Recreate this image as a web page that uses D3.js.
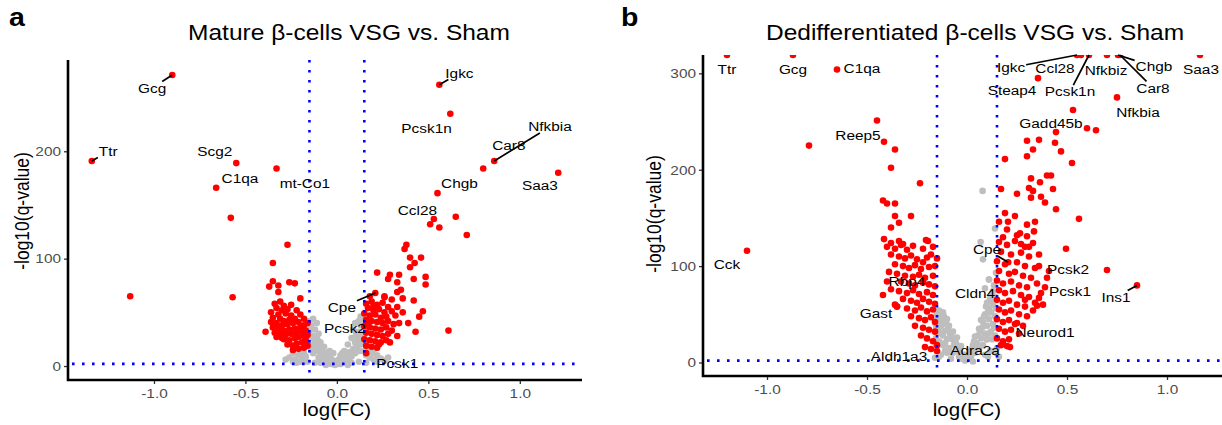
<!DOCTYPE html>
<html lang="en">
<head>
<meta charset="UTF-8">
<title>Volcano plots VSG vs. Sham</title>
<script src="https://d3js.org/d3.v7.min.js"></script>
<style>
  body { margin: 0; background: #fff; }
  svg text { font-family: "Liberation Sans", Arial, sans-serif; }
  .tick text { fill: #4d4d4d; font-size: 13.5px; }
  .tick line { stroke: #333; stroke-width: 1.3; }
  .gene-label { font-size: 13.5px; fill: #000; }
</style>
</head>
<body>
<svg id="chart" width="1222" height="425"></svg>
<script>
// ---- panel a: mature beta-cells ----
const matureGrey = [
  [-0.26,8],[-0.24,12],[-0.23,6],[-0.21,10],[-0.20,15],[-0.19,7],[-0.18,12],[-0.17,18],[-0.16,24],[-0.15,30],
  [-0.14,38],[-0.13,44],[-0.15,20],[-0.14,15],[-0.13,28],[-0.12,34],[-0.12,22],[-0.11,26],[-0.11,14],[-0.10,18],
  [-0.10,8],[-0.09,12],[-0.08,16],[-0.08,5],[-0.07,9],[-0.06,12],[-0.05,4],[-0.04,8],[-0.03,2],[-0.02,5],
  [-0.01,1],[0.00,3],[0.01,6],[0.02,2],[0.03,7],[0.04,4],[0.05,10],[0.06,6],[0.07,13],[0.08,9],
  [0.09,16],[0.10,12],[0.10,22],[0.11,28],[0.11,18],[0.12,32],[0.12,24],[0.13,38],[0.13,20],[0.14,44],
  [0.14,30],[0.15,36],[0.15,14],[0.16,10],[0.17,16],[0.18,8],[0.19,12],[0.20,6],[0.22,10],[0.24,7],
  [-0.22,3],[-0.16,4],[-0.12,3],[0.12,4],[0.16,3],[-0.06,1],[0.06,1],[-0.17,9],[0.08,3],[-0.09,3],
  [0.20,15],[-0.20,4],[0.26,5],[-0.15,42],[-0.14,26],[-0.13,12],[-0.11,40],[-0.10,30],[-0.09,22],[-0.07,18],
  [-0.05,10],[-0.02,12],[0.02,10],[0.04,14],[0.06,20],[0.08,26],[0.09,34],[0.10,40],[0.12,42],[0.13,46],
  [0.14,22],[0.15,26],[-0.18,4],[-0.24,4],[0.22,4],[-0.28,6],[0.28,8],[-0.03,6],[0.01,2],[-0.145,34],
  [-0.125,18],[-0.105,24],[0.105,30],[0.125,14],[0.135,28],[-0.04,14],[0.03,12],[0.07,4],[-0.07,4]
];
const matureRed = [
  [-1.13,65],[-0.58,138],[-0.57,64],[-0.39,32],[-0.27,113],[-0.35,96],[-0.35,79],[-0.37,74],[-0.32,75],[-0.26,78],
  [-0.23,77],[-0.32,69],[-0.20,63],
  [-0.34,58],[-0.31,60],[-0.29,56],[-0.33,54],[-0.30,52],[-0.27,53],[-0.36,50],[-0.32,48],[-0.28,49],[-0.25,47],
  [-0.35,45],[-0.31,44],[-0.29,42],[-0.26,43],[-0.23,44],[-0.33,40],[-0.30,38],[-0.27,39],[-0.24,40],[-0.21,41],
  [-0.35,36],[-0.32,35],[-0.29,33],[-0.26,34],[-0.23,35],[-0.20,36],[-0.18,38],[-0.31,30],[-0.28,29],[-0.25,30],
  [-0.22,31],[-0.19,32],[-0.17,33],[-0.29,25],[-0.26,24],[-0.23,26],[-0.21,27],[-0.18,28],[-0.16,29],[-0.27,20],
  [-0.24,19],[-0.22,21],[-0.19,22],[-0.17,24],[-0.16,19],[-0.21,16],[-0.18,17],[-0.24,15],[-0.36,41],[-0.34,31],
  [-0.20,48],[-0.22,52],[-0.25,57],[-0.18,44],[-0.16,40],[-0.30,26],[-0.33,27],
  [0.51,132],[0.56,129],[0.65,139],[0.71,122],
  [0.38,113],[0.37,109],[0.40,101],[0.46,101],[0.425,96],[0.40,92],[0.22,87],[0.29,85],[0.34,85],[0.28,81],
  [0.33,78],[0.42,81],[0.485,83],[0.485,76],[0.26,65],[0.33,69],[0.35,71],[0.36,63],[0.42,61],[0.47,51],
  [0.45,46],[0.39,40],[0.43,32],[0.61,33],
  [0.16,58],[0.19,60],[0.22,57],[0.25,59],[0.28,55],[0.17,54],[0.20,52],[0.23,53],[0.26,50],[0.30,51],
  [0.15,49],[0.18,47],[0.21,48],[0.24,45],[0.27,46],[0.32,47],[0.16,43],[0.19,42],[0.22,41],[0.25,40],
  [0.28,42],[0.31,39],[0.15,37],[0.18,36],[0.21,35],[0.24,34],[0.27,36],[0.30,33],[0.16,31],[0.19,30],
  [0.22,29],[0.25,28],[0.28,30],[0.15,25],[0.18,24],[0.21,23],[0.24,22],[0.27,24],[0.16,19],[0.19,18],
  [0.22,17],[0.33,55],[0.30,62],[0.26,64],[0.18,65],[0.34,40],[0.36,50],[0.33,28],[0.20,56],[0.17,39],
  [0.23,20],[0.29,22]
];
// gene, logFC, -log10(q), label position (data units), leader line
const matureGenes = [
  ["Gcg", -0.90, 271, -1.01, 259, true],
  ["Ttr", -1.34, 191, -1.25, 200, true],
  ["Scg2", -0.55, 189, -0.667, 200, false],
  ["C1qa", -0.66, 166, -0.53, 175, false],
  ["mt-Co1", -0.33, 184, -0.175, 170, false],
  ["Igkc", 0.56, 262, 0.67, 273, true],
  ["Pcsk1n", 0.62, 235, 0.49, 221, false],
  ["Nfkbia", 0.86, 191, 1.165, 223, true],
  ["Car8", 0.80, 184, 0.94, 206, false],
  ["Saa3", 1.21, 180, 1.11, 168, false],
  ["Chgb", 0.55, 161, 0.67, 170, false],
  ["Ccl28", 0.53, 137, 0.44, 145, false],
  ["Cpe", 0.21, 68, 0.027, 55, true],
  ["Pcsk2", 0.16, 40, 0.044, 35, false],
  ["Pcsk1", 0.16, 12, 0.33, 3, false]
];

// ---- panel b: dedifferentiated beta-cells ----
const dedifGrey = [
  [-0.15,50],[-0.14,54],[-0.13,47],[-0.12,52],[-0.14,42],[-0.12,40],[-0.10,45],[-0.15,35],[-0.13,30],[-0.11,33],
  [-0.09,38],[-0.14,22],[-0.12,18],[-0.10,24],[-0.08,28],[-0.06,22],[-0.15,12],[-0.13,8],[-0.11,12],[-0.09,15],
  [-0.07,10],[-0.05,14],[-0.04,6],[-0.02,8],[0.00,3],[0.02,6],[-0.08,4],[0.04,10],[0.06,14],[0.05,20],
  [0.07,25],[0.08,18],[0.09,30],[0.10,24],[0.10,38],[0.11,45],[0.12,32],[0.12,52],[0.13,40],[0.13,60],
  [0.14,48],[0.14,68],[0.12,64],[0.11,56],[0.09,50],[0.08,42],[0.06,35],[0.14,28],[0.15,15],[0.03,1],
  [-0.01,2],[0.09,8],[0.12,12],[-0.16,5],[0.16,6],[0.09,77],[0.11,86],[0.145,93],[0.08,107],[0.068,125],
  [0.14,139],[0.078,178],[-0.03,17],[0.02,12],[0.04,27],[-0.13,38],[-0.11,20],[-0.07,32],[-0.05,26],[0.07,44],
  [0.10,62],[0.13,74],[0.11,30],[-0.01,8],[0.03,18],
  [-0.145,46],[-0.135,51],[-0.125,44],[-0.115,48],[-0.105,41],[-0.095,35],[-0.085,30],[-0.075,24],[-0.065,18],[-0.055,20],
  [-0.045,12],[-0.035,10],[-0.025,4],[-0.015,6],[0.005,5],[0.015,9],[0.025,14],[0.035,22],[0.045,16],[0.055,28],
  [0.065,32],[0.075,36],[0.085,48],[0.095,58],[0.105,52],[0.115,66],[0.125,72],[0.135,80],[0.145,56],[0.135,36],
  [0.125,24],[0.115,12],[0.105,6],[-0.13,20],[-0.14,32],[-0.12,28],[-0.10,10],[-0.14,6],[0.145,10],[-0.155,25],
  [-0.155,38]
];
const dedifRed = [
  [-0.79,225],[-0.415,229],[-0.36,221],[-0.38,202],[-0.235,186],[-0.42,168],[-0.40,165],[-0.36,165],[-0.36,152],[-0.28,152],
  [-0.34,145],[-0.38,140],[-0.415,128],[-0.38,124],[-0.34,126],[-0.32,123],[-0.205,127],[-0.195,126],
  [-0.40,120],[-0.36,118],[-0.33,122],[-0.30,117],[-0.27,121],[-0.22,118],[-0.17,120],[-0.38,112],[-0.34,110],[-0.31,108],
  [-0.28,111],[-0.25,107],[-0.20,109],[-0.36,102],[-0.32,100],[-0.29,98],[-0.26,101],[-0.23,97],[-0.19,99],[-0.16,100],
  [-0.39,94],[-0.35,92],[-0.31,90],[-0.27,89],[-0.24,91],[-0.21,88],[-0.17,90],[-0.33,84],[-0.29,82],[-0.26,80],
  [-0.22,83],[-0.19,81],[-0.16,79],[-0.38,76],[-0.34,74],[-0.30,72],[-0.27,75],[-0.24,71],[-0.20,73],[-0.17,70],
  [-0.32,66],[-0.28,64],[-0.25,62],[-0.22,66],[-0.19,63],[-0.16,61],[-0.35,58],[-0.30,56],[-0.26,54],[-0.23,57],
  [-0.20,53],[-0.17,55],[-0.28,48],[-0.24,46],[-0.21,44],[-0.18,47],[-0.16,42],[-0.26,38],[-0.22,36],[-0.19,34],
  [-0.16,32],[-0.23,28],[-0.20,25],[-0.17,22],[-0.15,18],[-0.21,16],[-0.18,14],[-0.36,60],[-0.40,84],[-0.42,70],
  [-0.22,104],[-0.18,112],[-0.15,108],
  [0.19,211],[0.17,180],[0.25,175],[0.32,191],[0.31,181],[0.33,178],[0.32,171],[0.365,187],[0.30,230],[0.33,221],
  [0.30,214],[0.36,231],[0.19,155],[0.16,146],[0.205,146],[0.24,152],[0.30,143],[0.34,146],[0.265,134],[0.30,131],
  [0.27,123],[0.31,120],[0.335,136],
  [0.60,243],[0.645,241],[0.445,239],[0.44,228],[0.47,219],[0.525,207],[0.40,194],[0.42,194],[0.43,180],[0.37,172],
  [0.39,166],[0.445,159],[0.56,149],[0.495,118],[0.70,96],
  [0.16,125],[0.20,122],[0.24,126],[0.29,120],[0.33,124],[0.17,115],[0.22,112],[0.27,114],[0.31,110],[0.36,112],
  [0.15,105],[0.19,102],[0.25,104],[0.29,100],[0.34,98],[0.16,95],[0.21,92],[0.24,94],[0.28,90],[0.32,88],
  [0.15,85],[0.18,82],[0.22,84],[0.26,80],[0.30,78],[0.35,82],[0.16,75],[0.19,72],[0.23,74],[0.27,70],
  [0.31,68],[0.15,65],[0.18,62],[0.21,64],[0.25,60],[0.29,58],[0.34,62],[0.16,55],[0.19,52],[0.22,54],
  [0.26,50],[0.30,48],[0.15,45],[0.18,42],[0.21,44],[0.24,40],[0.28,38],[0.16,35],[0.19,32],[0.22,34],
  [0.26,30],[0.15,25],[0.18,22],[0.21,24],[0.20,17],[0.17,18],[0.33,54],[0.37,72],[0.38,60],[0.40,88],
  [0.36,100],[0.25,132],[0.20,138],[0.18,130],[0.35,59],[0.36,67],[0.29,65],[0.25,41]
];
// Infinity = q-value of 0, drawn at the top edge
const dedifGenes = [
  ["Ttr", -1.20, Infinity, -1.20, 304, false],
  ["Gcg", -0.87, Infinity, -0.87, 304, false],
  ["C1qa", -0.65, 304, -0.525, 305, false],
  ["Cck", -1.10, 116, -1.20, 102, false],
  ["Reep5", -0.45, 251, -0.545, 236, false],
  ["Igkc", 0.55, Infinity, 0.22, 306, true],
  ["Ccl28", 0.57, Infinity, 0.44, 305, false],
  ["Steap4", 0.355, 295, 0.225, 282, false],
  ["Pcsk1n", 0.61, Infinity, 0.515, 281, true],
  ["Nfkbiz", 0.70, Infinity, 0.695, 303, false],
  ["Chgb", 0.755, Infinity, 0.935, 307, true],
  ["Car8", 0.765, Infinity, 0.93, 285, true],
  ["Saa3", 1.165, Infinity, 1.17, 304, false],
  ["Nfkbia", 0.75, 275, 0.855, 260, false],
  ["Gadd45b", 0.53, 262, 0.42, 248, false],
  ["Cpe", 0.206, 104, 0.10, 117, true],
  ["Pcsk2", 0.41, 95, 0.505, 97, false],
  ["Pcsk1", 0.39, 78, 0.515, 74, false],
  ["Ins1", 0.85, 80, 0.745, 68, true],
  ["Rbp4", -0.22, 83, -0.30, 84, false],
  ["Cldn4", 0.11, 86, 0.04, 72, false],
  ["Gast", -0.35, 58, -0.455, 51, false],
  ["Neurod1", 0.215, 16, 0.39, 31, false],
  ["Adra2a", 0.10, 24, 0.04, 13, false],
  ["Aldh1a3", -0.15, 12, -0.34, 6, false]
];

const xTicks = [-1.0, -0.5, 0.0, 0.5, 1.0];
const fcCut = 0.15;
const qCut = 2;
const textWiden = 1.14;   // the source figure is a little stretched sideways

const svg = d3.select("#chart");

// move x/y into a transform so the glyphs can be widened
function widen(sel) {
  sel.each(function () {
    const t = d3.select(this);
    const tx = +t.attr("x") || 0, ty = +t.attr("y") || 0;
    t.attr("x", 0).attr("y", 0)
      .attr("transform", `translate(${tx},${ty}) scale(${textWiden},1)`);
  });
}

function drawPanel(p) {
  const x = d3.scaleLinear().domain(p.xDomain).range(p.xRange);
  const y = d3.scaleLinear().domain(p.yDomain).range(p.yRange);
  const yv = v => y(v === Infinity ? p.yDomain[1] : v);
  const g = svg.append("g");

  g.append("text").attr("x", p.letterX).attr("y", 26)
    .style("font-size", "25px").style("font-weight", "bold").text(p.letter).call(widen);
  g.append("text").attr("x", p.titleX).attr("y", 40).attr("text-anchor", "middle")
    .style("font-size", "21.5px").text(p.title).call(widen);

  g.append("clipPath").attr("id", "clip-" + p.id).append("rect")
    .attr("x", p.xRange[0]).attr("y", p.yRange[1])
    .attr("width", p.xRange[1] - p.xRange[0]).attr("height", p.yRange[0] - p.yRange[1]);
  const plot = g.append("g").attr("clip-path", `url(#clip-${p.id})`);

  plot.selectAll("circle.grey").data(p.grey).join("circle").attr("class", "grey")
    .attr("cx", d => x(d[0])).attr("cy", d => yv(d[1])).attr("r", 3.3).attr("fill", "#bebebe");
  plot.selectAll("circle.red").data(p.red).join("circle").attr("class", "red")
    .attr("cx", d => x(d[0])).attr("cy", d => yv(d[1])).attr("r", 3.3).attr("fill", "#ff0000");
  plot.selectAll("circle.gene-dot").data(p.genes).join("circle").attr("class", "gene-dot")
    .attr("cx", d => x(d[1])).attr("cy", d => yv(d[2])).attr("r", 3.3)
    .attr("fill", d => Math.abs(d[1]) >= fcCut ? "#ff0000" : "#bebebe");

  // threshold lines
  const dotted = { stroke: "#0000ff", "stroke-width": 2.6, "stroke-dasharray": "2.6,7.4" };
  [-fcCut, fcCut].forEach(v => {
    const l = g.append("line").attr("x1", x(v)).attr("x2", x(v))
      .attr("y1", p.yRange[1]).attr("y2", p.yRange[0]);
    Object.entries(dotted).forEach(([k, val]) => l.attr(k, val));
  });
  const h = g.append("line").attr("x1", p.xRange[0] + 4).attr("x2", p.xRange[1])
    .attr("y1", y(qCut)).attr("y2", y(qCut));
  Object.entries(dotted).forEach(([k, val]) => h.attr(k, val));

  // axes
  const xAxis = g.append("g").attr("transform", `translate(0,${p.yRange[0]})`)
    .call(d3.axisBottom(x).tickValues(xTicks).tickSize(4).tickPadding(4).tickFormat(d => d.toFixed(1)));
  const yAxis = g.append("g").attr("transform", `translate(${p.xRange[0]},0)`)
    .call(d3.axisLeft(y).tickValues(p.yTicks).tickSize(4).tickPadding(3).tickFormat(d3.format("d")));
  xAxis.select(".domain").remove();
  yAxis.select(".domain").remove();
  xAxis.selectAll(".tick text").call(widen);
  yAxis.selectAll(".tick text").call(widen);
  g.append("path")
    .attr("d", `M${p.xRange[0]},${p.yRange[1]}V${p.yRange[0]}H${p.xRange[1]}`)
    .attr("fill", "none").attr("stroke", "#000").attr("stroke-width", 2.6);

  g.append("text").attr("x", (p.xRange[0] + p.xRange[1]) / 2 + p.xTitleShift).attr("y", 416)
    .attr("text-anchor", "middle").style("font-size", "18px").text("log(FC)").call(widen);
  g.append("text")
    .attr("transform", `translate(${p.yTitleX},${p.yTitleY}) rotate(-90) scale(1,${textWiden})`)
    .attr("text-anchor", "middle").style("font-size", "17.5px").text("-log10(q-value)");

  // gene labels with leader lines
  const labels = g.selectAll("text.gene-label").data(p.genes).join("text").attr("class", "gene-label")
    .attr("x", d => x(d[3])).attr("y", d => y(d[4])).attr("dy", "0.35em")
    .attr("text-anchor", "middle").text(d => d[0]).call(widen);
  labels.each(function (d) {
    if (!d[5]) return;
    const b = this.getBBox();
    const w = b.width * textWiden;
    const cx = x(d[3]) + (b.x + b.width / 2) * textWiden, cy = y(d[4]) + b.y + b.height / 2;
    const tx = x(d[1]), ty = yv(d[2]);
    const dx = tx - cx, dy = ty - cy;
    let s = 1;
    if (dx !== 0) s = Math.min(s, (w / 2 + 1) / Math.abs(dx));
    if (dy !== 0) s = Math.min(s, (b.height / 2 - 1) / Math.abs(dy));
    g.append("line").attr("x1", cx + s * dx).attr("y1", cy + s * dy)
      .attr("x2", tx).attr("y2", ty).attr("stroke", "#000").attr("stroke-width", 1.7);
  });
}

drawPanel({
  id: "a", letter: "a", letterX: 9, title: "Mature \u03b2-cells VSG vs. Sham", titleX: 349,
  xDomain: [-1.47, 1.34], xRange: [68, 582], yDomain: [-13, 285], yRange: [380, 60],
  yTicks: [0, 100, 200], xTitleShift: 12, yTitleX: 29, yTitleY: 211,
  grey: matureGrey, red: matureRed, genes: matureGenes
});
drawPanel({
  id: "b", letter: "b", letterX: 621, title: "Dedifferentiated \u03b2-cells VSG vs. Sham", titleX: 975,
  xDomain: [-1.32, 1.28], xRange: [703, 1223], yDomain: [-14, 319], yRange: [376, 55],
  yTicks: [0, 100, 200, 300], xTitleShift: 4, yTitleX: 661, yTitleY: 214,
  grey: dedifGrey, red: dedifRed, genes: dedifGenes
});
</script>
</body>
</html>
